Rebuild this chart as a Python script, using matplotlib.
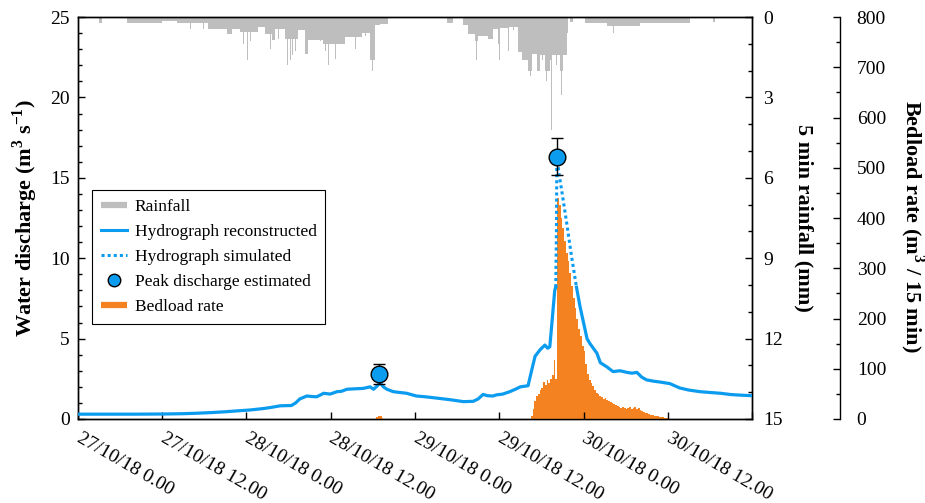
import numpy as np
import matplotlib
matplotlib.use("Agg")
import matplotlib.pyplot as plt
from matplotlib.lines import Line2D
from matplotlib.ticker import MultipleLocator

plt.rcParams['font.family'] = ['Liberation Serif', 'DejaVu Serif']
plt.rcParams['mathtext.fontset'] = 'custom'
plt.rcParams['mathtext.rm'] = 'Liberation Serif'
plt.rcParams['mathtext.bf'] = 'Liberation Serif:bold'

# ---------------- data (time in hours since 27/10/18 0.00) ----------------
tick_hours = [0, 12, 24, 36, 48, 60, 72, 84, 96]
tick_labels = ['27/10/18 0.00', '27/10/18 12.00', '28/10/18 0.00', '28/10/18 12.00',
               '29/10/18 0.00', '29/10/18 12.00', '30/10/18 0.00', '30/10/18 12.00', '']

# hydrograph reconstructed (two segments)
hydro1_t = [0, 4, 8, 12, 15, 17, 19, 21, 22.5, 24.5, 26.4, 27.5, 28.8, 30.4, 31.0, 31.6, 32.6,
            33.3, 34.0, 35.0, 35.9, 36.9, 37.5, 38.3, 39.5, 40.6, 41.6, 42.1, 42.6, 43.0, 43.5,
            44.0, 44.9, 46.8, 48.2, 49.5, 51.1, 53.0, 54.9, 56.3, 57.0, 57.7, 58.3, 59.1, 59.6,
            60.5, 61.5, 62.3, 63.0, 64.1, 64.6, 65.1, 65.8, 66.5, 66.9, 67.2, 67.5, 67.9, 68.05]
hydro1_q = [0.30, 0.30, 0.30, 0.31, 0.33, 0.36, 0.40, 0.45, 0.50, 0.56, 0.65, 0.72, 0.82, 0.84,
            1.00, 1.25, 1.43, 1.40, 1.38, 1.60, 1.55, 1.70, 1.72, 1.85, 1.88, 1.90, 2.00, 1.85,
            2.05, 2.26, 2.00, 1.85, 1.70, 1.60, 1.43, 1.38, 1.30, 1.20, 1.08, 1.10, 1.25, 1.53,
            1.45, 1.43, 1.50, 1.55, 1.70, 1.85, 2.00, 2.07, 3.00, 3.90, 4.30, 4.60, 4.40, 4.50,
            5.97, 8.00, 8.20]
hydro2_t = [71.0, 71.5, 72.0, 72.5, 72.9, 73.4, 73.9, 74.4, 75.3, 76.2, 77.2, 78.2, 78.9, 79.6,
            80.3, 81.0, 82.0, 82.9, 84.3, 85.7, 87.0, 88.6, 90.0, 91.5, 93.0, 94.5, 96.0]
hydro2_q = [8.2, 7.0, 6.0, 5.0, 4.7, 4.4, 4.1, 3.5, 3.25, 2.95, 3.0, 2.9, 2.85, 2.9, 2.6, 2.43,
            2.35, 2.3, 2.2, 1.93, 1.80, 1.70, 1.65, 1.60, 1.52, 1.48, 1.45]

# hydrograph simulated
sim_t = [68.05, 68.15, 68.2, 68.6, 68.9, 69.6, 70.3, 71.0]
sim_q = [8.2, 12.0, 16.3, 15.0, 14.2, 12.2, 10.1, 8.2]

# peak discharge estimated
peak_t = [42.9, 68.2]
peak_q = [2.8, 16.3]
peak_err_low = [0.62, 1.1]
peak_err_high = [0.62, 1.17]

# bedload rate (m3 / 15 min), 15 min bars (start times)
bed_t = [42.5, 42.75, 43.0, 43.25] + list(np.arange(64.5, 84.0, 0.25))
bed_v = [3, 6, 5, 2,
         5, 20, 35, 45, 50, 58, 62, 74, 68, 78, 72, 80, 88, 117, 80,
         440, 425, 400, 380, 355, 330, 315, 290, 265, 240, 220, 200, 180, 165, 145, 135,
         110, 90, 78, 72, 65, 58, 52, 50, 46, 44, 40, 42, 38, 36, 34, 32, 30, 28, 26, 24,
         22, 24, 22, 20, 22, 24, 20, 22, 24, 20, 22, 18, 16, 14, 12, 12, 10, 8, 8, 6, 6,
         5, 4, 4, 3, 2, 2]

# 5 min rainfall (mm): base blocks and individual 5-min peaks
rain_blk_start = [3.0, 7.0, 12.0, 14.1, 18.5, 21.2, 21.9, 23.1, 25.6, 26.6, 27.6, 28.1, 29.5,
                  31.3, 32.3, 32.8, 34.9, 36.2, 38.0, 40.5, 41.6, 42.3, 43.0, 52.6, 54.8, 55.6,
                  56.6, 57.0, 58.4, 59.1, 59.8, 60.1, 61.3, 62.7, 63.2, 64.1, 64.7, 65.4, 65.8,
                  66.5, 67.2, 67.5, 68.7, 69.1, 69.7, 70.1, 72.2, 75.4, 80.1, 90.5]
rain_blk_end = [3.4, 12.0, 14.1, 18.5, 21.2, 21.9, 23.1, 25.6, 26.6, 27.6, 28.1, 29.5, 31.3,
                32.3, 32.8, 34.9, 36.2, 38.0, 40.5, 41.6, 42.3, 43.0, 44.2, 53.4, 55.6, 56.6,
                57.0, 58.4, 59.1, 59.8, 60.1, 61.3, 62.7, 63.2, 64.1, 64.7, 65.4, 65.8, 66.5,
                67.2, 67.5, 68.7, 69.1, 69.7, 69.8, 70.5, 75.4, 80.1, 87.2, 90.7]
rain_blk_mm = [0.22, 0.22, 0.15, 0.22, 0.43, 0.62, 0.45, 0.55, 0.37, 0.62, 0.87, 0.43, 0.80,
               0.50, 1.37, 0.87, 1.00, 1.00, 0.75, 0.60, 1.60, 0.30, 0.25, 0.22, 0.30, 0.62,
               0.90, 0.70, 0.80, 0.43, 1.00, 0.40, 0.37, 1.30, 1.60, 2.00, 1.37, 2.00, 1.40,
               2.00, 1.60, 1.40, 2.00, 1.40, 0.60, 0.20, 0.22, 0.33, 0.22, 0.20]
rain_pk_t = [7.5, 9.8, 14.2, 14.8, 16.0, 17.8, 19.2, 19.5, 22.9, 23.5, 24.1, 24.5, 26.9, 27.4,
             28.5, 29.8, 30.2, 30.5, 30.9, 31.3, 33.3, 34.0, 34.5, 35.2, 35.6, 36.6, 37.0, 39.5,
             40.9, 41.9, 42.0, 56.7, 60.0, 60.8, 61.3, 62.0, 64.4, 65.5, 66.1, 66.7, 67.4, 68.1,
             68.8, 76.2]
rain_pk_mm = [0.43, 0.43, 0.43, 0.43, 0.43, 0.43, 0.80, 0.65, 0.80, 1.00, 1.60, 0.90, 1.20, 1.20,
              0.80, 1.80, 1.60, 1.40, 1.25, 2.20, 1.05, 1.20, 0.90, 1.25, 1.80, 1.55, 1.30, 1.20,
              0.70, 2.00, 1.50, 1.60, 1.60, 0.62, 1.25, 0.50, 2.20, 2.60, 1.60, 2.40, 4.20, 1.80,
              2.90, 0.60]

# ---------------- styling ----------------
BLUE = '#0B9BEF'
ORANGE = '#F58220'
GRAY = '#BEBEBE'
FS_TICK = 14
FS_LAB = 16

fig = plt.figure(figsize=(9.25, 5.03), dpi=100)
ax = fig.add_axes([0.0843, 0.167, 0.7287, 0.799])
ax_r = ax.twinx()
ax_b = ax.twinx()

# rainfall
blk_w = [e - s for s, e in zip(rain_blk_start, rain_blk_end)]
ax_r.bar(rain_blk_start, rain_blk_mm, width=blk_w, align='edge', color=GRAY, linewidth=0)
ax_r.bar(rain_pk_t, rain_pk_mm, width=5 / 60, align='edge', color=GRAY, linewidth=0)
ax_r.set_ylim(15, 0)
ax_r.yaxis.set_major_locator(MultipleLocator(3))
ax_r.yaxis.set_minor_locator(MultipleLocator(1))
ax_r.set_ylabel('5 min rainfall (mm)', fontsize=FS_LAB, fontweight='bold', rotation=-90,
                ha='center', va='center')
ax_r.yaxis.set_label_coords(1.0757, 0.5)

# bedload
ax_b.bar(bed_t, bed_v, width=0.25, align='edge', color=ORANGE, linewidth=0)
ax_b.set_ylim(0, 800)
ax_b.spines['right'].set_position(('axes', 1.1306))
for s in ['left', 'top', 'bottom']:
    ax_b.spines[s].set_visible(False)
ax_b.yaxis.set_major_locator(MultipleLocator(100))
ax_b.yaxis.set_minor_locator(MultipleLocator(50))
ax_b.set_ylabel(r'Bedload rate (m$^{\mathbf{3}}$ / 15 min)', fontsize=FS_LAB, fontweight='bold',
                rotation=-90, ha='center', va='center')
ax_b.yaxis.set_label_coords(1.2375, 0.48)

# main axis
ax.set_zorder(3)
ax.patch.set_visible(False)
ax.plot(hydro1_t, hydro1_q, color=BLUE, lw=2.3, zorder=3)
ax.plot(hydro2_t, hydro2_q, color=BLUE, lw=2.3, zorder=3)
ax.plot(sim_t, sim_q, color=BLUE, lw=2.2, linestyle=(0, (1, 1.0)), zorder=3)
ax.errorbar(peak_t, peak_q, yerr=[peak_err_low, peak_err_high], fmt='o', color=BLUE,
            markersize=12, markeredgecolor='black', markeredgewidth=1.0,
            ecolor='black', elinewidth=1.0, capsize=4, capthick=1.0, zorder=5)
ax.set_xlim(0, 96)
ax.set_ylim(0, 25)
ax.yaxis.set_major_locator(MultipleLocator(5))
ax.yaxis.set_minor_locator(MultipleLocator(1))
ax.set_xticks(tick_hours)
ax.set_xticklabels(tick_labels, rotation=-30, ha='left', va='center', rotation_mode='anchor')
ax.set_ylabel(r'Water discharge (m$^{\mathbf{3}}$ s$^{\mathbf{-1}}$)', fontsize=FS_LAB,
              fontweight='bold', ha='center', va='center')
ax.yaxis.set_label_coords(-0.079, 0.5)

for a in (ax, ax_r, ax_b):
    a.tick_params(which='both', direction='in', labelsize=FS_TICK, width=1.0)
    a.tick_params(which='major', length=5)
    a.tick_params(which='minor', length=3)
ax.tick_params(axis='y', pad=6)
ax.tick_params(axis='x', pad=13)
ax_r.tick_params(axis='y', pad=8)
ax_b.tick_params(axis='y', pad=12)
for a in (ax, ax_r, ax_b):
    for s in a.spines.values():
        s.set_linewidth(1.0)

handles = [
    Line2D([], [], color=GRAY, lw=4.5, solid_capstyle='butt'),
    Line2D([], [], color=BLUE, lw=2.2),
    Line2D([], [], color=BLUE, lw=2.2, linestyle=(0, (1, 1.0))),
    Line2D([], [], color=BLUE, marker='o', linestyle='none', markersize=9,
           markeredgecolor='black', markeredgewidth=1.0),
    Line2D([], [], color=ORANGE, lw=4.5, solid_capstyle='butt'),
]
labels = ['Rainfall', 'Hydrograph reconstructed', 'Hydrograph simulated',
          'Peak discharge estimated', 'Bedload rate']
leg = ax.legend(handles, labels, loc='upper left', bbox_to_anchor=(0.021, 0.57),
                borderaxespad=0, fontsize=12.5, frameon=True, fancybox=False,
                edgecolor='black', framealpha=1, handlelength=1.5, handletextpad=0.45,
                labelspacing=0.52, borderpad=0.5)
leg.get_frame().set_linewidth(0.8)

fig.savefig('out.png', dpi=100)
